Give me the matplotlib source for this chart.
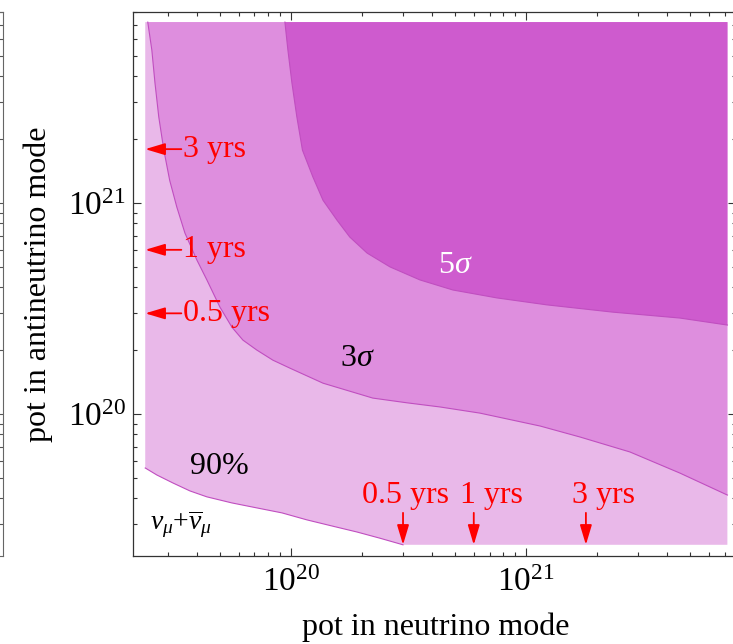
import matplotlib.pyplot as plt
from matplotlib.ticker import LogLocator, NullFormatter

plt.rcParams['font.family'] = ['Liberation Serif', 'DejaVu Serif']
plt.rcParams['mathtext.fontset'] = 'custom'
plt.rcParams['mathtext.rm'] = 'Liberation Serif'
plt.rcParams['mathtext.it'] = 'Liberation Serif:italic'
plt.rcParams['mathtext.bf'] = 'Liberation Serif:bold'

# pot range of the scan (same for both modes)
pot_min, pot_max = 2.4e19, 7.2e21

# 90% C.L. boundary: pot in nu mode / pot in anti-nu mode
cl90_nu = [2.4e19, 2.69e19, 3.15e19, 3.72e19, 4.39e19, 5.61e19, 7.16e19, 9.16e19,
           1.17e20, 1.49e20, 1.91e20, 2.39e20, 3.0e20]
cl90_anu = [5.55e19, 5.14e19, 4.71e19, 4.32e19, 4.05e19, 3.79e19, 3.59e19, 3.40e19,
            3.15e19, 2.95e19, 2.76e19, 2.58e19, 2.4e19]

# 3 sigma boundary
sig3_nu = [2.46e19, 2.56e19, 2.64e19, 2.74e19, 2.88e19, 3.05e19, 3.27e19, 3.54e19,
           3.98e19, 4.39e19, 4.99e19, 5.61e19, 6.25e19, 7.16e19, 8.38e19, 9.90e19,
           1.37e20, 2.23e20, 3.12e20, 4.31e20, 6.37e20, 1.15e21, 1.70e21, 2.77e21,
           4.52e21, 7.2e21]
sig3_anu = [7.2e21, 5.31e21, 3.71e21, 2.56e21, 1.78e21, 1.28e21, 9.57e20, 7.21e20,
            5.37e20, 4.32e20, 3.21e20, 2.58e20, 2.24e20, 2.01e20, 1.80e20, 1.65e20,
            1.40e20, 1.19e20, 1.13e20, 1.08e20, 1.01e20, 8.77e19, 7.78e19, 6.61e19,
            5.25e19, 4.13e19]

# 5 sigma boundary
sig5_nu = [9.43e19, 9.71e19, 1.01e20, 1.06e20, 1.12e20, 1.24e20, 1.37e20, 1.57e20,
           1.78e20, 2.11e20, 2.64e20, 3.54e20, 4.89e20, 7.53e20, 1.23e21, 2.34e21,
           4.52e21, 7.2e21]
sig5_anu = [7.2e21, 5.31e21, 3.71e21, 2.56e21, 1.78e21, 1.33e21, 1.03e21, 8.30e20,
            6.90e20, 5.79e20, 4.98e20, 4.32e20, 3.87e20, 3.55e20, 3.29e20, 3.04e20,
            2.85e20, 2.64e20]

years = [0.5, 1, 3]
pot_per_year = 6e20

c_90 = '#E9B8E9'
c_3s = '#DE8EDE'
c_5s = '#CE5BCE'
c_edge = '#C04EC0'
fs = 23

fig = plt.figure(figsize=(7.33, 6.44), dpi=100)

# right edge of the neighbouring panel
ax0 = fig.add_axes([-0.3, 0.1366, 0.3041, 0.8447])
ax0.set_yscale('log')
ax0.set_ylim(10**19.327, 10**21.905)
ax0.set_xticks([])
ax0.yaxis.tick_right()
ax0.tick_params(axis='y', which='both', direction='in', labelright=False,
                length=5, width=0.8, color='#555555')
ax0.tick_params(axis='y', which='minor', length=3)
for s in ax0.spines.values():
    s.set_color('#666666')

ax = fig.add_axes([0.1814, 0.1366, 0.8227, 0.8447])
ax.set_xscale('log')
ax.set_yscale('log')
ax.set_xlim(10**19.328, 10**21.894)
ax.set_ylim(10**19.327, 10**21.905)

# 90% region
ax.fill(cl90_nu + [pot_max, pot_max, pot_min],
        cl90_anu + [pot_min, pot_max, pot_max], color=c_90, lw=0)
ax.plot(cl90_nu, cl90_anu, color=c_edge, lw=0.8)
# 3 sigma region
ax.fill(sig3_nu + [pot_max], sig3_anu + [pot_max], color=c_3s, lw=0)
ax.plot(sig3_nu, sig3_anu, color=c_edge, lw=0.8)
# 5 sigma region
ax.fill(sig5_nu + [pot_max], sig5_anu + [pot_max], color=c_5s, lw=0)
ax.plot(sig5_nu, sig5_anu, color=c_edge, lw=0.8)

ax.text(4.99e20, 5.08e20, r'$5\sigma$', color='white', fontsize=fs,
        ha='center', va='center')
ax.text(1.91e20, 1.84e20, r'$3\sigma$', color='black', fontsize=fs,
        ha='center', va='center')
ax.text(4.94e19, 5.61e19, '90%', color='black', fontsize=fs,
        ha='center', va='center')
ax.text(2.52e19, 3.0e19, r'$\nu_\mu{+}\overline{\nu}_\mu$', color='black',
        fontsize=20, ha='left', va='center')

# exposure markers
arrow = dict(arrowstyle='-|>,head_length=1.2,head_width=0.36', color='red',
             lw=1.3, shrinkA=0, shrinkB=0)
dx_lab = [2, 13, 13]
for yr, dx in zip(years, dx_lab):
    pot = yr * pot_per_year
    lab = f'{yr:g} yrs'
    # along the antineutrino axis
    ax.annotate('', xy=(pot_min, pot), xytext=(26, 0),
                textcoords='offset points', arrowprops=arrow)
    ax.annotate(lab, xy=(pot_min, pot), xytext=(27, 0),
                textcoords='offset points', color='red', fontsize=fs,
                ha='left', va='center')
    # along the neutrino axis
    ax.annotate('', xy=(pot, pot_min), xytext=(0, 23),
                textcoords='offset points', arrowprops=arrow)
    ax.annotate(lab, xy=(pot, pot_min), xytext=(dx, 30),
                textcoords='offset points', color='red', fontsize=fs,
                ha='center', va='baseline')

ax.set_xticks([1e20, 1e21])
ax.set_yticks([1e20, 1e21])
ax.set_xticklabels([r'$10^{20}$', r'$10^{21}$'])
ax.set_yticklabels([r'$10^{20}$', r'$10^{21}$'])
for a in (ax.xaxis, ax.yaxis):
    a.set_minor_locator(LogLocator(base=10, subs=range(2, 10), numticks=20))
    a.set_minor_formatter(NullFormatter())
ax.tick_params(which='both', direction='in', top=True, right=True,
               width=0.8, color='#333333', labelsize=24)
ax.tick_params(which='major', length=6)
ax.tick_params(which='minor', length=3)
ax.tick_params(axis='x', pad=8)
ax.tick_params(axis='y', pad=5)
for s in ax.spines.values():
    s.set_color('#333333')
    s.set_linewidth(0.9)

ax.set_xlabel('pot in neutrino mode', fontsize=fs)
ax.set_ylabel('pot in antineutrino mode', fontsize=fs)
ax.xaxis.set_label_coords(0.502, -0.104)
ax.yaxis.set_label_coords(-0.132, 0.5)

fig.savefig('out.png', dpi=100)
